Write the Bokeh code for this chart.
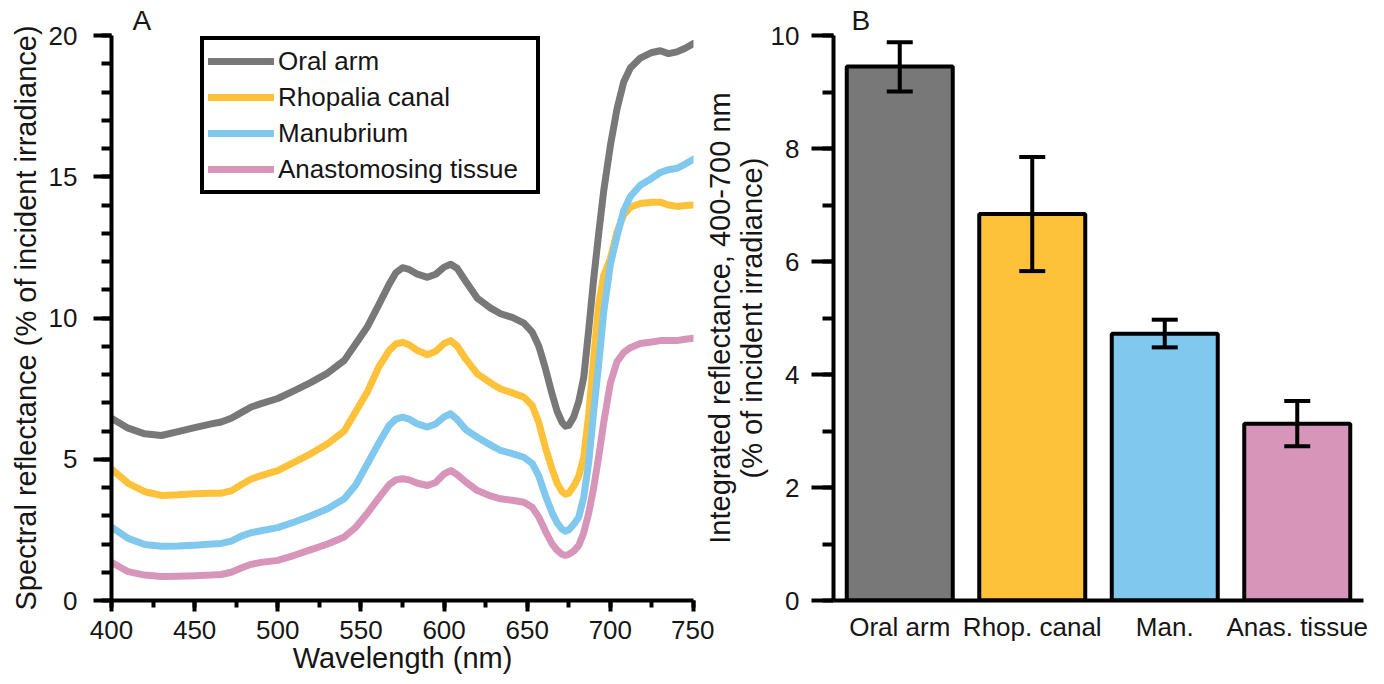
from bokeh.plotting import figure
from bokeh.models import (Legend, LegendItem, SingleIntervalTicker, Whisker, TeeHead,
                          ColumnDataSource, FactorRange, Range1d)
from bokeh.layouts import row
from bokeh.embed import file_html
from bokeh.resources import INLINE

# ---------------- data: panel A (spectral reflectance) ----------------
wavelength = [400, 410, 420, 430, 440, 450, 460, 466, 472, 478, 484, 490, 500, 510, 520, 530, 540,
              547, 554, 561, 567, 571, 575, 579, 584, 590, 595, 600, 604, 608, 613, 620, 628, 634,
              641, 648, 653, 657, 661, 665, 668, 671, 673, 675, 678, 681, 684, 687, 690, 693, 696,
              700, 704, 708, 712, 718, 725, 730, 735, 740, 745, 750]

oral_arm = [6.45, 6.1, 5.9, 5.84, 5.98, 6.12, 6.25, 6.32, 6.45, 6.65, 6.85, 6.97, 7.15, 7.43, 7.72, 8.05, 8.5,
            9.1, 9.7, 10.5, 11.2, 11.6, 11.78, 11.72, 11.55, 11.44, 11.55, 11.8, 11.9, 11.75, 11.3, 10.7, 10.35, 10.15,
            10.02, 9.82, 9.5, 9.0, 8.2, 7.3, 6.7, 6.3, 6.17, 6.2, 6.5, 7.05, 7.9, 9.6, 11.4, 13.0, 14.5,
            16.1, 17.4, 18.35, 18.85, 19.2, 19.4, 19.46, 19.36, 19.42, 19.55, 19.72]

rhopalia_canal = [4.65, 4.15, 3.85, 3.72, 3.74, 3.78, 3.8, 3.8, 3.88, 4.1, 4.3, 4.42, 4.6, 4.9, 5.2, 5.55, 6.0,
                  6.7, 7.4, 8.3, 8.85, 9.08, 9.14, 9.05, 8.85, 8.7, 8.82, 9.1, 9.2, 9.0, 8.55, 8.02, 7.7, 7.49,
                  7.35, 7.2, 6.9, 6.3, 5.4, 4.65, 4.15, 3.85, 3.76, 3.8, 4.05, 4.4, 5.07, 6.6, 8.6, 10.5, 11.5,
                  12.1, 13.05, 13.65, 13.92, 14.05, 14.1, 14.1, 14.0, 13.95, 13.98, 14.0]

manubrium = [2.6, 2.2, 1.98, 1.92, 1.93, 1.96, 2.0, 2.02, 2.1, 2.28, 2.4, 2.47, 2.58, 2.78, 3.0, 3.25, 3.6,
             4.1, 4.85, 5.6, 6.2, 6.42, 6.49, 6.42, 6.25, 6.14, 6.25, 6.5, 6.61, 6.4, 6.05, 5.78, 5.5, 5.31,
             5.2, 5.07, 4.85, 4.4, 3.7, 3.1, 2.75, 2.52, 2.45, 2.5, 2.7, 2.95, 3.66, 4.9, 6.7, 8.38, 10.2,
             11.9, 12.9, 13.8, 14.3, 14.7, 14.95, 15.15, 15.25, 15.3, 15.45, 15.62]

anastomosing_tissue = [1.35, 1.02, 0.9, 0.85, 0.86, 0.88, 0.9, 0.92, 1.0, 1.15, 1.28, 1.35, 1.42, 1.6, 1.8, 2.0, 2.25,
                       2.6, 3.1, 3.65, 4.1, 4.27, 4.31, 4.27, 4.15, 4.07, 4.18, 4.48, 4.6, 4.45, 4.2, 3.89, 3.7, 3.6,
                       3.55, 3.48, 3.3, 2.95, 2.45, 2.0, 1.78, 1.63, 1.6, 1.63, 1.75, 1.95, 2.4, 3.1, 4.0, 5.1, 6.3,
                       7.7, 8.45, 8.78, 8.95, 9.1, 9.15, 9.2, 9.2, 9.2, 9.25, 9.28]

series_names = ["Oral arm", "Rhopalia canal", "Manubrium", "Anastomosing tissue"]
series_values = [oral_arm, rhopalia_canal, manubrium, anastomosing_tissue]
series_colors = ["#787878", "#FDC23A", "#80C8EE", "#D795BA"]

# ---------------- data: panel B (integrated reflectance) ----------------
bar_categories = ["Oral arm", "Rhop. canal", "Man.", "Anas. tissue"]
bar_means = [9.45, 6.84, 4.72, 3.13]
bar_upper = [9.88, 7.85, 4.97, 3.53]
bar_lower = [9.01, 5.83, 4.48, 2.73]

FONT = "Liberation Sans"
FS = "26px"
FS_LABEL = "29px"
TXT = "#161616"


def style_axis(ax):
    ax.axis_line_width = 4
    ax.axis_line_color = "black"
    ax.major_tick_line_width = 4
    ax.minor_tick_line_width = 4
    ax.major_tick_line_color = "black"
    ax.minor_tick_line_color = "black"
    ax.major_tick_in = 0
    ax.minor_tick_in = 0
    ax.major_label_text_font = FONT
    ax.major_label_text_font_size = FS
    ax.major_label_text_color = TXT
    ax.axis_label_text_font = FONT
    ax.axis_label_text_font_size = FS_LABEL
    ax.axis_label_text_font_style = "normal"
    ax.axis_label_text_color = TXT


def style_title(p, letter, offset):
    p.title.text = letter
    p.title.align = "left"
    p.title.offset = offset
    p.title.text_font = FONT
    p.title.text_font_size = "28px"
    p.title.text_font_style = "normal"
    p.title.text_color = TXT
    p.title.standoff = 0


# ---------------- Panel A ----------------
WA = 714
p1 = figure(width=WA, height=684, x_range=Range1d(400, 750), y_range=Range1d(0, 20),
            output_backend="svg", toolbar_location=None,
            min_border_left=111, min_border_right=WA - 693, min_border_top=35, min_border_bottom=84)
p1.outline_line_color = None
p1.xgrid.visible = False
p1.ygrid.visible = False
style_title(p1, "A", 21)

renderers = []
for name, vals, col in zip(series_names, series_values, series_colors):
    r = p1.line(wavelength, vals, line_width=7, line_color=col, line_cap="round", line_join="round")
    renderers.append(r)

xa = p1.xaxis[0]
style_axis(xa)
xa.ticker = SingleIntervalTicker(interval=50, num_minor_ticks=2)
xa.major_tick_out = 11
xa.minor_tick_out = 7
xa.major_label_standoff = 9
xa.axis_label = "Wavelength (nm)"
xa.axis_label_standoff = 0

ya = p1.yaxis[0]
style_axis(ya)
ya.ticker = SingleIntervalTicker(interval=5, num_minor_ticks=5)
ya.major_tick_out = 18
ya.minor_tick_out = 10
ya.major_label_standoff = 16
ya.axis_label = "Spectral reflectance (% of incident irradiance)"
ya.axis_label_standoff = 4

legend = Legend(items=[LegendItem(label=n, renderers=[r]) for n, r in zip(series_names, renderers)],
                location=(89, 406))
legend.border_line_color = "black"
legend.border_line_alpha = 1
legend.border_line_width = 4
legend.background_fill_alpha = 1
legend.padding = 4
legend.spacing = 2
legend.glyph_width = 66
legend.glyph_height = 34
legend.label_height = 34
legend.label_standoff = 4
legend.label_width = 254
legend.label_text_font = FONT
legend.label_text_font_size = "26px"
legend.label_text_color = TXT
legend.margin = 0
p1.add_layout(legend)

# ---------------- Panel B ----------------
M = 40                      # panel B overlaps the transparent right border of panel A
XB0 = WA - M
WB = 1384 - XB0
LB = 833 - XB0
p2 = figure(width=WB, height=684, x_range=FactorRange(*bar_categories, range_padding=0),
            y_range=Range1d(0, 10), output_backend="svg", toolbar_location=None,
            min_border_left=LB, min_border_right=WB - LB - 530,
            min_border_top=35, min_border_bottom=84, margin=(0, 0, 0, -M))
p2.outline_line_color = None
p2.border_fill_color = None
p2.xgrid.visible = False
p2.ygrid.visible = False
style_title(p2, "B", 18)

src = ColumnDataSource(dict(cat=bar_categories, top=bar_means, upper=bar_upper, lower=bar_lower,
                            color=series_colors))
p2.vbar(x="cat", top="top", width=0.8, fill_color="color", line_color="black", line_width=4,
        source=src)
wh = Whisker(base="cat", upper="upper", lower="lower", source=src, line_width=4, line_color="black",
             upper_head=TeeHead(size=26, line_width=4, line_color="black"),
             lower_head=TeeHead(size=26, line_width=4, line_color="black"),
             level="annotation")
p2.add_layout(wh)

xb = p2.xaxis[0]
style_axis(xb)
xb.major_tick_out = 0
xb.minor_tick_out = 0
xb.major_tick_line_color = None
xb.major_label_standoff = 11

yb = p2.yaxis[0]
style_axis(yb)
yb.ticker = SingleIntervalTicker(interval=2, num_minor_ticks=2)
yb.major_tick_out = 22
yb.minor_tick_out = 11
yb.major_label_standoff = 12
yb.axis_label = "Integrated reflectance, 400-700 nm\n(% of incident irradiance)"
yb.axis_label_text_font_size = "29px"
yb.axis_label_text_line_height = 1.0
yb.axis_label_standoff = 0

layout = row(p1, p2)
open("out.html", "w").write(file_html(layout, INLINE))
